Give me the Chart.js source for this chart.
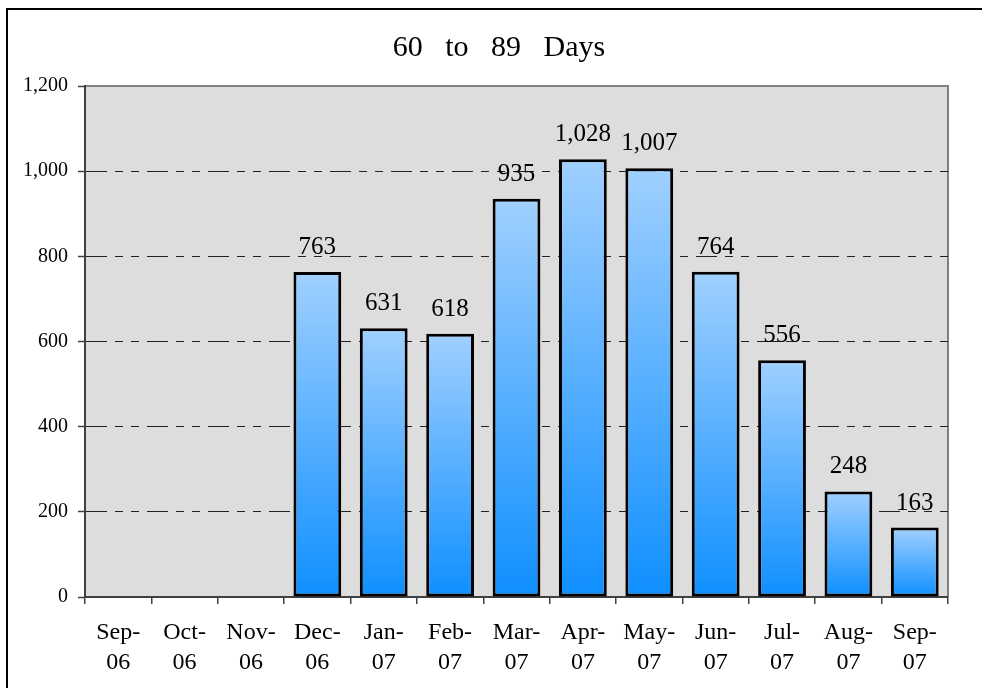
<!DOCTYPE html>
<html lang="en">
<head>
    <meta charset="UTF-8">
    <title>60 to 89 Days</title>
    <script src="https://cdn.jsdelivr.net/npm/chart.js"></script>
    <style>
        body { margin: 0; background: #fff; }
    </style>
</head>
<body>

<canvas id="barChart" width="982" height="688"></canvas>

<script type="text/javascript">
    // Chart data
    const chartTitle = '60   to   89   Days';
    const months = [
        ['Sep-', '06'], ['Oct-', '06'], ['Nov-', '06'], ['Dec-', '06'],
        ['Jan-', '07'], ['Feb-', '07'], ['Mar-', '07'], ['Apr-', '07'],
        ['May-', '07'], ['Jun-', '07'], ['Jul-', '07'], ['Aug-', '07'], ['Sep-', '07']
    ];
    const counts = [null, null, null, 763, 631, 618, 935, 1028, 1007, 764, 556, 248, 163];
    const yTicks = [0, 200, 400, 600, 800, 1000, 1200];

    const serif = '"Liberation Serif", "Times New Roman", serif';

    // White page, outer frame, grey plot area, title
    const backdrop = {
        id: 'backdrop',
        beforeDraw(chart) {
            const ctx = chart.ctx;
            const a = chart.chartArea;
            ctx.save();
            ctx.fillStyle = '#fff';
            ctx.fillRect(0, 0, chart.width, chart.height);
            ctx.strokeStyle = '#000';
            ctx.lineWidth = 2;
            ctx.beginPath();
            ctx.moveTo(7, chart.height);
            ctx.lineTo(7, 9);
            ctx.lineTo(chart.width, 9);
            ctx.stroke();
            ctx.fillStyle = '#dddddd';
            ctx.fillRect(a.left, a.top, a.right - a.left, a.bottom - a.top);
            ctx.strokeStyle = '#808080';
            ctx.beginPath();
            ctx.moveTo(a.left, a.top);
            ctx.lineTo(a.right, a.top);
            ctx.lineTo(a.right, a.bottom);
            ctx.stroke();

            ctx.fillStyle = '#000';
            ctx.font = '30px ' + serif;
            ctx.textAlign = 'center';
            ctx.textBaseline = 'middle';
            ctx.fillText(chartTitle, (chart.width + 16) / 2, 48);
            ctx.restore();
        }
    };

    // Value labels above the bars
    const valueLabels = {
        id: 'valueLabels',
        afterDatasetsDraw(chart) {
            const ctx = chart.ctx;
            const meta = chart.getDatasetMeta(0);
            ctx.save();
            ctx.font = '25px ' + serif;
            ctx.fillStyle = '#000';
            ctx.textAlign = 'center';
            ctx.textBaseline = 'alphabetic';
            meta.data.forEach((bar, i) => {
                const v = counts[i];
                if (v === null) return;
                ctx.fillText(v.toLocaleString('en-US'), bar.x, bar.y - 18);
            });
            ctx.restore();
        }
    };

    function barFill(context) {
        const chart = context.chart;
        if (!chart.chartArea || context.raw == null) return '#55a8ff';
        const y = chart.scales.y;
        const top = y.getPixelForValue(context.raw);
        const bottom = y.getPixelForValue(0);
        const g = chart.ctx.createLinearGradient(0, top, 0, bottom);
        g.addColorStop(0, '#a0d0ff');
        g.addColorStop(1, '#0f8fff');
        return g;
    }

    const ctx = document.getElementById('barChart').getContext('2d');
    const chart = new Chart(ctx, {
        type: 'bar',
        data: {
            labels: months,
            datasets: [{
                data: counts,
                backgroundColor: barFill,
                borderColor: '#000',
                borderWidth: 3,
                borderSkipped: false,
                barPercentage: 0.72,
                categoryPercentage: 1
            }]
        },
        plugins: [backdrop, valueLabels],
        options: {
            responsive: false,
            animation: false,
            layout: {
                padding: { left: 0, right: 34, top: 86, bottom: 0 }
            },
            plugins: {
                legend: { display: false },
                tooltip: { enabled: false },
                title: { display: false }
            },
            scales: {
                x: {
                    afterFit(scale) { scale.height = 91; },
                    grid: {
                        drawOnChartArea: false,
                        drawTicks: true,
                        tickLength: 7,
                        color: '#404040',
                        lineWidth: 1.5
                    },
                    border: { color: '#404040', width: 2 },
                    ticks: {
                        color: '#000',
                        padding: 14,
                        maxRotation: 0,
                        autoSkip: false,
                        font: { family: serif, size: 24, lineHeight: 1.25 }
                    }
                },
                y: {
                    min: 0,
                    max: 1200,
                    afterFit(scale) { scale.width = 85; },
                    afterBuildTicks(scale) {
                        scale.ticks = yTicks.map(v => ({ value: v }));
                    },
                    grid: {
                        color: c => (c.tick && (c.tick.value === 0 || c.tick.value === 1200)) ? 'rgba(0,0,0,0)' : '#222',
                        lineWidth: 1,
                        tickLength: 7,
                        tickColor: '#404040',
                        tickWidth: 1.5,
                        tickBorderDash: [100, 0]
                    },
                    border: { color: '#404040', width: 2, dash: [21, 8, 8, 8, 8, 8] },
                    ticks: {
                        color: '#000',
                        padding: 10,
                        font: { family: serif, size: 20 },
                        callback: v => v.toLocaleString('en-US')
                    }
                }
            }
        }
    });
</script>

</body>
</html>
